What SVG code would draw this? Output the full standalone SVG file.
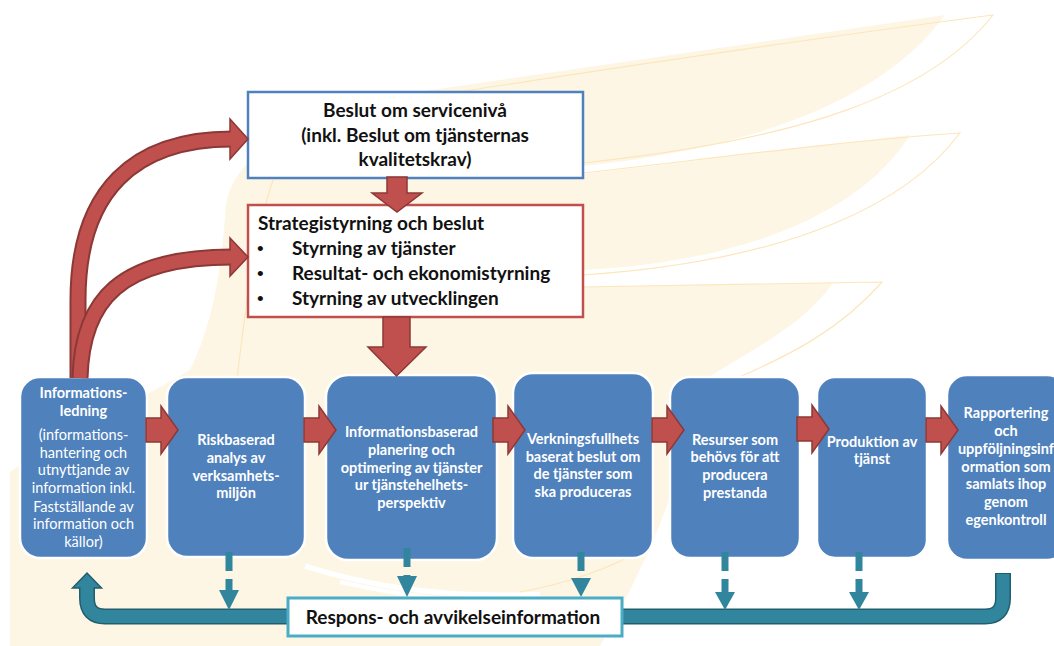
<svg xmlns="http://www.w3.org/2000/svg" width="1054" height="646" viewBox="0 0 1054 646">
<style>
.bg{fill:#FEF6E5;stroke:none}
.fl{fill:none;stroke:#FCE6BC;stroke-width:1.2}
.node rect{fill:#4F81BD;stroke:#FFFFFF;stroke-width:2.5}
.nt{font-family:Lato,"Liberation Sans",sans-serif;font-weight:bold;font-size:14.5px;fill:#FFFFFF;text-anchor:middle}
.nr{font-weight:normal}
.bt{font-family:Lato,"Liberation Sans",sans-serif;font-weight:bold;font-size:19px;fill:#111111}
.bu{font-family:"Liberation Sans",sans-serif;font-size:19px;fill:#111111}
.ra{fill:#C0504D;stroke:#8C3836;stroke-width:1.5;stroke-linejoin:miter}
.rd{fill:none;stroke:#8C3836;stroke-width:17}
.ri{fill:none;stroke:#C0504D;stroke-width:13}
.td{fill:none;stroke:#31859C;stroke-width:7;stroke-dasharray:19 8}
.th{fill:#31859C}
</style>
<defs>
<path id="rarr" class="ra" d="M0,-12 H15 V-24 L32,0 L15,24 V12 H0 Z"/>
</defs>
<rect width="1054" height="646" fill="#FFFFFF"/>
<g id="background">
<path class="bg" d="M10,646 L10,472 C70,430 150,395 190,370 C215,320 222,260 226,205 C232,160 290,110 445,88 L945,15 C880,105 740,150 583,166 L583,174 L910,135 C860,215 740,262 583,270 L583,287 L833,283 C800,330 740,355 705,380 C685,470 650,560 600,646 Z"/>
<path class="fl" d="M330,112 C520,82 800,40 993,15 C930,95 800,140 583,163"/>
<path class="fl" d="M583,173 C700,160 850,140 960,133 C910,200 800,260 583,275"/>
<path class="fl" d="M583,287 C700,285 800,283 882,282 C840,330 790,355 737,378"/>
<path class="fl" d="M273,180 C250,250 245,320 237,378"/>
<path d="M305,566 C380,590 460,598 540,594" fill="none" stroke="#FFFFFF" stroke-width="5"/>
<path d="M340,582 C420,600 480,604 560,600" fill="none" stroke="#FFFFFF" stroke-width="4"/>
<path class="fl" d="M520,592 C560,585 610,570 650,545"/>
</g>
<g id="n-service">
<rect x="248" y="92" width="335" height="86" fill="#FFFFFF" stroke="#4F81BD" stroke-width="2.5"/>
<text class="bt" x="415" y="117" text-anchor="middle">Beslut om servicenivå</text>
<text class="bt" x="415" y="142" text-anchor="middle">(inkl. Beslut om tjänsternas</text>
<text class="bt" x="415" y="166" text-anchor="middle">kvalitetskrav)</text>
</g>
<g id="n-strategi">
<rect x="248" y="205" width="335" height="112" fill="#FFFFFF" stroke="#C0504D" stroke-width="2.5"/>
<text class="bt" x="258" y="230">Strategistyrning och beslut</text>
<text class="bu" x="257" y="255">•</text>
<text class="bt" x="292" y="255">Styrning av tjänster</text>
<text class="bu" x="257" y="280">•</text>
<text class="bt" x="292" y="280">Resultat- och ekonomistyrning</text>
<text class="bu" x="257" y="305">•</text>
<text class="bt" x="292" y="305">Styrning av utvecklingen</text>
</g>
<g id="n1" class="node">
<rect x="20" y="377" width="127" height="181" rx="20"/>
<text class="nt" x="83.5" y="398">Informations-</text>
<text class="nt" x="83.5" y="416">ledning</text>
<text class="nt nr" x="83.5" y="440">(informations-</text>
<text class="nt nr" x="83.5" y="458">hantering och</text>
<text class="nt nr" x="83.5" y="475">utnyttjande av</text>
<text class="nt nr" x="83.5" y="493">information inkl.</text>
<text class="nt nr" x="83.5" y="512">Fastställande av</text>
<text class="nt nr" x="83.5" y="529">information och</text>
<text class="nt nr" x="83.5" y="547">källor)</text>
</g>
<g id="n2" class="node">
<rect x="167" y="377" width="138" height="180" rx="20"/>
<text class="nt" x="236" y="445">Riskbaserad</text>
<text class="nt" x="236" y="463">analys av</text>
<text class="nt" x="236" y="481">verksamhets-</text>
<text class="nt" x="236" y="498">miljön</text>
</g>
<g id="n3" class="node">
<rect x="326" y="375" width="171" height="185" rx="22"/>
<text class="nt" x="411.5" y="437">Informationsbaserad</text>
<text class="nt" x="411.5" y="455">planering och</text>
<text class="nt" x="411.5" y="473">optimering av tjänster</text>
<text class="nt" x="411.5" y="490">ur tjänstehelhets-</text>
<text class="nt" x="411.5" y="508">perspektiv</text>
</g>
<g id="n4" class="node">
<rect x="513" y="373" width="140" height="185" rx="20"/>
<text class="nt" x="583" y="444">Verkningsfullhets</text>
<text class="nt" x="583" y="462">baserat beslut om</text>
<text class="nt" x="583" y="479">de tjänster som</text>
<text class="nt" x="583" y="497">ska produceras</text>
</g>
<g id="n5" class="node">
<rect x="670" y="377" width="130" height="181" rx="20"/>
<text class="nt" x="735" y="445">Resurser som</text>
<text class="nt" x="735" y="462">behövs för att</text>
<text class="nt" x="735" y="480">producera</text>
<text class="nt" x="735" y="498">prestanda</text>
</g>
<g id="n6" class="node">
<rect x="817" y="377" width="110" height="181" rx="18"/>
<text class="nt" x="872" y="447">Produktion av</text>
<text class="nt" x="872" y="464">tjänst</text>
</g>
<g id="n7" class="node">
<rect x="947" y="375" width="120" height="185" rx="20"/>
<text class="nt" x="1006" y="418">Rapportering</text>
<text class="nt" x="1006" y="436">och</text>
<text class="nt" x="1006" y="454">uppföljningsinf</text>
<text class="nt" x="1006" y="472">ormation som</text>
<text class="nt" x="1006" y="489">samlats ihop</text>
<text class="nt" x="1006" y="507">genom</text>
<text class="nt" x="1006" y="525">egenkontroll</text>
</g>
<g id="connectors">
<path class="ra" d="M387,177 H407 V193 H422 L397,212 L372,193 H387 Z"/>
<path class="ra" d="M383,317 H410 V347 H426 L396.5,376 L368,347 H383 Z"/>
<path class="rd" d="M78,378 L78,300 C78,190 135,139 232,139"/>
<path class="ra" d="M230,119 L248,139 L230,159 Z"/>
<path class="ri" d="M78,378 L78,300 C78,190 135,139 232,139 H235"/>
<path class="rd" d="M80,378 C82,300 120,257 232,257"/>
<path class="ra" d="M230,238 L248,257 L230,276 Z"/>
<path class="ri" d="M80,378 C82,300 120,257 232,257 H235"/>
<use href="#rarr" transform="translate(146,430)"/>
<use href="#rarr" transform="translate(304,430)"/>
<use href="#rarr" transform="translate(493,430)"/>
<use href="#rarr" transform="translate(652,430)"/>
<use href="#rarr" transform="translate(797,429)"/>
<use href="#rarr" transform="translate(926,430)"/>
<path d="M1003,573 V598 Q1003,616.5 985,616.5 H105 Q87,616.5 87,598 V588" fill="none" stroke="#215E6E" stroke-width="16"/>
<path d="M72.5,588 L87,573 L101.5,588 Z" fill="#31859C" stroke="#215E6E" stroke-width="1.5" stroke-linejoin="miter"/>
<path d="M1003,574 V598 Q1003,616.5 985,616.5 H105 Q87,616.5 87,598 V587" fill="none" stroke="#31859C" stroke-width="13"/>
<line class="td" x1="229" y1="552" x2="229" y2="592"/>
<path class="th" d="M219,590 H239 L229,610 Z"/>
<line class="td" x1="407" y1="548" x2="407" y2="578"/>
<path class="th" d="M397,576 H417 L407,597 Z"/>
<line class="td" x1="581" y1="552" x2="581" y2="580"/>
<path class="th" d="M571,578 H591 L581,597 Z"/>
<line class="td" x1="725" y1="552" x2="725" y2="594"/>
<path class="th" d="M715,592 H735 L725,610 Z"/>
<line class="td" x1="859" y1="552" x2="859" y2="594"/>
<path class="th" d="M849,592 H869 L859,610 Z"/>
</g>
<g id="n-respons">
<rect x="288" y="598" width="334" height="38" fill="#FFFFFF" stroke="#4BACC6" stroke-width="3"/>
<text class="bt" x="453" y="624" text-anchor="middle">Respons- och avvikelseinformation</text>
</g>
</svg>
